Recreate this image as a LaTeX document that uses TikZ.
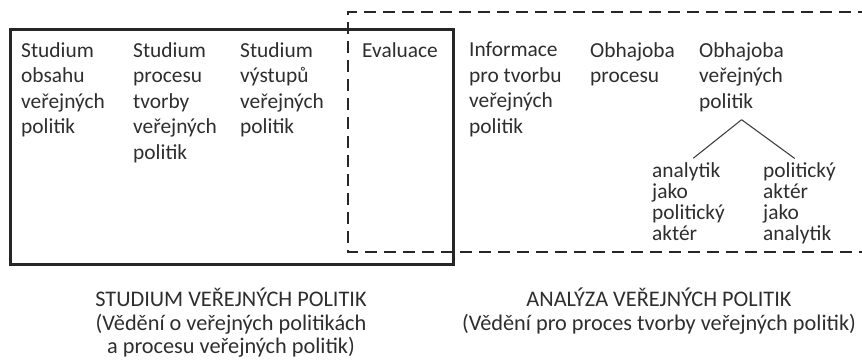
\documentclass[tikz,border=0pt]{standalone}
\usepackage{fontspec}
\setmainfont{Carlito}
\usetikzlibrary{positioning}
\definecolor{textgray}{HTML}{2E2E2E}

\begin{document}
\begin{tikzpicture}[x=1pt, y=-1pt, font=\fontsize{21.4}{25.5}\selectfont, text=textgray,
    col/.style={anchor=north west, inner sep=0pt, align=left},
    sub/.style={col, font=\fontsize{21.4}{21}\selectfont},
    capt/.style={anchor=north, inner sep=0pt, align=center, font=\fontsize{22.3}{23.5}\selectfont}]
  \useasboundingbox (0,0) rectangle (862,359);
  % the two areas
  \draw[line width=3pt, black!85] (10,29) rectangle (453,264);
  \draw[line width=2.7pt, black!85, dash pattern=on 12pt off 7pt] (870,12) -| (348,252) -- (870,252);
  % columns
  \node[col] (sov) at (21,42) {Studium\\obsahu\\veřejných\\politik};
  \node[col] (spt) at (133,42) {Studium\\procesu\\tvorby\\veřejných\\politik};
  \node[col] (svp) at (240,42) {Studium\\výstupů\\veřejných\\politik};
  \node[col] (ev) at (362,42) {Evaluace};
  \node[col] (inf) at (469,42) {Informace\\pro tvorbu\\veřejných\\politik};
  \node[col] (op) at (590,42) {Obhajoba\\procesu};
  \node[col] (ovp) at (699,42) {Obhajoba\\veřejných\\politik};
  \node[sub] (ajpa) at (652,162) {analytik\\jako\\politický\\aktér};
  \node[sub] (pajaa) at (763,162) {politický\\aktér\\jako\\analytik};
  \coordinate[below=8pt of ovp.south] (split);
  \draw[black!75, line width=1.1pt, shorten >=6pt] (split) -- (ajpa.north);
  \draw[black!75, line width=1.1pt, shorten >=6pt] (split) -- (pajaa.north);
  % captions
  \node[capt] (svpcap) at (231,288) {STUDIUM VEŘEJNÝCH POLITIK\\(Vědění o veřejných politikách\\a procesu veřejných politik)};
  \node[capt] (avpcap) at (659,288) {ANALÝZA VEŘEJNÝCH POLITIK\\(Vědění pro proces tvorby veřejných politik)};
\end{tikzpicture}
\end{document}
